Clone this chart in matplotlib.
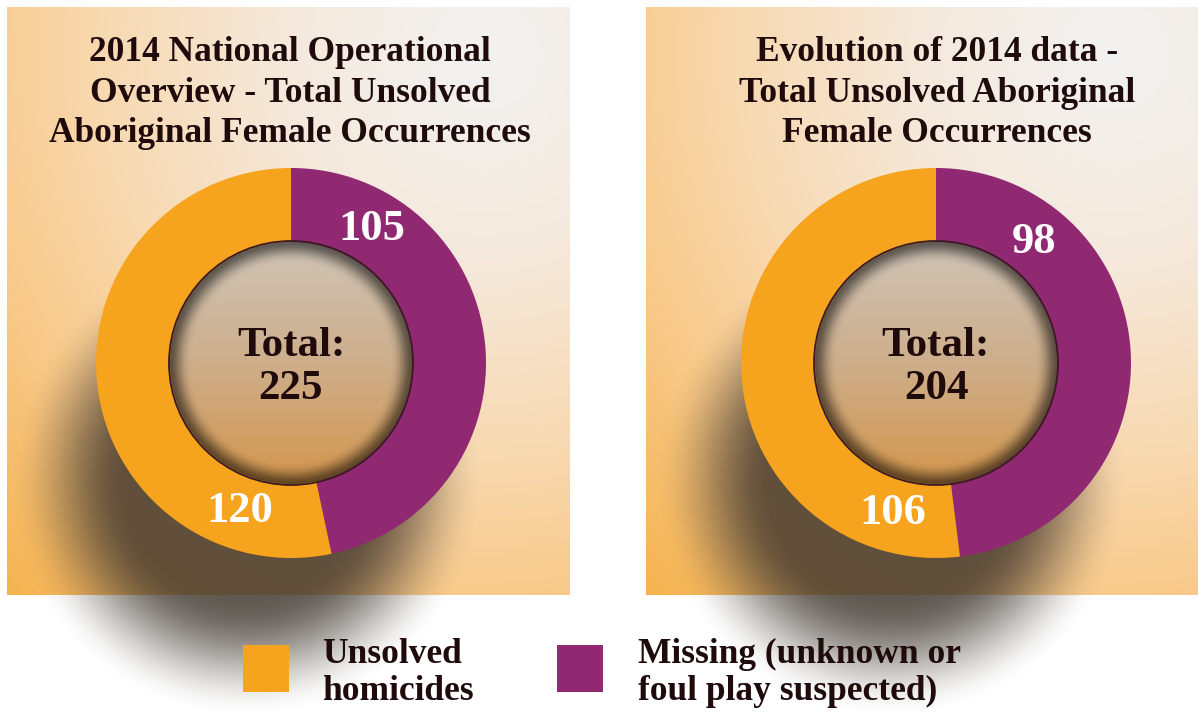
import numpy as np
import matplotlib
matplotlib.use("Agg")
import matplotlib.pyplot as plt
from matplotlib.patches import Circle, Rectangle

# -----------------------------
# Data
# -----------------------------
titles = [
    "2014 National Operational\nOverview - Total Unsolved\nAboriginal Female Occurrences",
    "Evolution of 2014 data -\nTotal Unsolved Aboriginal\nFemale Occurrences",
]
homicides = [120, 106]
missing = [105, 98]
totals = [225, 204]
legend_labels = ["Unsolved\nhomicides", "Missing (unknown or\nfoul play suspected)"]

ORANGE = "#F6A31E"
PURPLE = "#912872"
DARK = "#1F0B0C"
FONT = "Liberation Serif"

W, H = 1198, 713

# layout (pixel units, y measured from bottom)
panels = [(7, 118, 563, 588), (646, 118, 552, 588)]   # x, y, w, h
centers = [(291, H - 363), (936, H - 363)]
R_OUT, R_IN = 195, 122
title_x = [290, 937]


def bg_image(w, h):
    u = np.linspace(0, 1, w)[None, :]
    v = np.linspace(0, 1, h)[:, None]
    d = np.sqrt((u - 0.85) ** 2 + (v - 0.08) ** 2)
    stops = [0.0, 0.35, 0.7, 0.95, 1.3]
    cols = ["#F2F2F2", "#F5E9DC", "#F8D8AE", "#F8C886", "#F5B046"]
    rgb = np.array([matplotlib.colors.to_rgb(c) for c in cols])
    img = np.zeros((h, w, 3))
    for k in range(3):
        img[..., k] = np.interp(d, stops, rgb[:, k])
    return img


def smoothstep(x):
    x = np.clip(x, 0, 1)
    return x * x * (3 - 2 * x)


fig = plt.figure(figsize=(11.98, 7.13), dpi=100)
ax = fig.add_axes([0, 0, 1, 1])
ax.set_xlim(0, W)
ax.set_ylim(0, H)
ax.axis("off")

# panel backgrounds
for (px, py, pw, ph) in panels:
    ax.imshow(bg_image(pw, ph), extent=[px, px + pw, py, py + ph],
              origin="upper", zorder=0, interpolation="bilinear")

# drop shadows (whole figure)
gx = np.arange(W)[None, :] + 0.5
gy = np.arange(H)[:, None] + 0.5
alpha = np.zeros((H, W))
for (cx, cy) in centers:
    sx, sy = cx - 45, cy - 118
    d = np.sqrt((gx - sx) ** 2 + (gy - sy) ** 2)
    s = 60
    alpha = np.maximum(alpha, 0.8 * smoothstep((178 + s - d) / (2 * s)))
shadow = np.zeros((H, W, 4))
shadow[..., :3] = matplotlib.colors.to_rgb("#3A3128")
shadow[..., 3] = alpha
ax.imshow(shadow, extent=[0, W, 0, H], origin="lower", zorder=1,
          interpolation="bilinear")

# donuts
for i, (cx, cy) in enumerate(centers):
    ax.pie([missing[i], homicides[i]], colors=[PURPLE, ORANGE],
           startangle=90, counterclock=False, center=(cx, cy),
           radius=R_OUT, wedgeprops=dict(linewidth=0, zorder=2), frame=True)

    # inner sphere
    n = 300
    t = np.linspace(-1, 1, n)
    xx, yy = np.meshgrid(t, t)
    rr = np.sqrt(xx ** 2 + yy ** 2)
    top = np.array(matplotlib.colors.to_rgb("#CFC4B7"))
    mid = np.array(matplotlib.colors.to_rgb("#CDAE8B"))
    bot = np.array(matplotlib.colors.to_rgb("#D4964C"))
    vv = (yy + 1) / 2  # 0 at top row (origin upper), 1 at bottom
    img = np.zeros((n, n, 4))
    for k in range(3):
        img[..., k] = np.interp(vv, [0, 0.5, 1], [top[k], mid[k], bot[k]])
    edge = smoothstep((rr - 0.8) / 0.2)
    shade = 1 - 0.55 * edge ** 1.5
    img[..., :3] *= shade[..., None]
    img[..., 3] = np.clip((1 - rr) * n / 2, 0, 1)
    ax.imshow(img, extent=[cx - R_IN, cx + R_IN, cy - R_IN, cy + R_IN],
              origin="upper", zorder=3, interpolation="bilinear")
    ax.add_patch(Circle((cx, cy), R_IN, fill=False, edgecolor="#3B1A24",
                        linewidth=1.3, zorder=4))

    ax.text(cx, cy + 17, "Total:", ha="center", va="center", fontsize=31,
            fontweight="bold", family=FONT, color=DARK, zorder=5)
    ax.text(cx, cy - 26, str(totals[i]), ha="center", va="center",
            fontsize=31, fontweight="bold", family=FONT, color=DARK, zorder=5)

    ax.text(title_x[i], H - 93, titles[i], ha="center", va="center",
            fontsize=25.5, fontweight="bold", family=FONT, color=DARK,
            linespacing=1.3, zorder=5)

# value labels placed in the ring
ang_missing = [31, 39]
ang_hom = [-161, -164]
for i, (cx, cy) in enumerate(centers):
    r = 156
    for val, a in [(missing[i], ang_missing[i]), (homicides[i], ang_hom[i])]:
        th = np.deg2rad(90 - a)
        ax.text(cx + r * np.cos(th), cy + r * np.sin(th), str(val),
                ha="center", va="center", fontsize=32, fontweight="bold",
                family=FONT, color="white", zorder=5)

ax.set_xlim(0, W)
ax.set_ylim(0, H)
ax.set_aspect("auto")
ax.axis("off")

# legend
leg_sq = [(243, ORANGE), (557, PURPLE)]
leg_tx = [322, 638]
for (x, c), tx, lab in zip(leg_sq, leg_tx, legend_labels):
    ax.add_patch(Rectangle((x, H - 692), 46, 47, facecolor=c, edgecolor="none",
                           zorder=5))
    ax.text(tx, H - 673, lab, ha="left", va="center", fontsize=25.5,
            fontweight="bold", family=FONT, color=DARK, linespacing=1.15,
            zorder=5)

fig.savefig("out.png", dpi=100, facecolor="white")
